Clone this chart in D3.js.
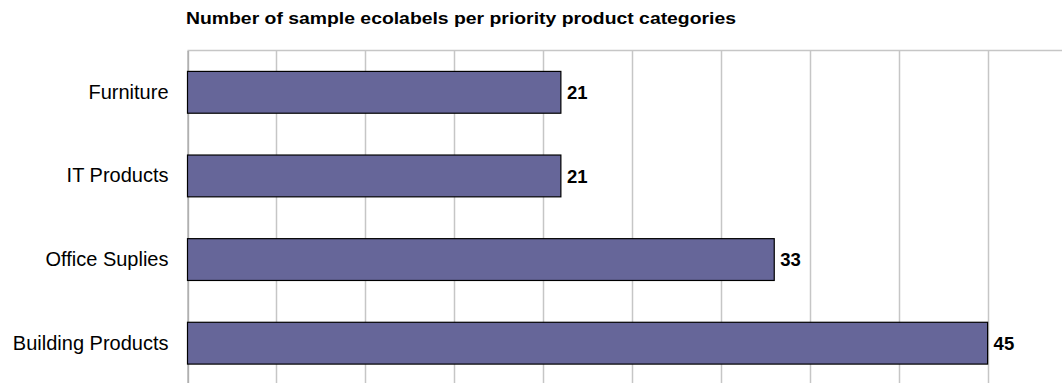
<!DOCTYPE html>
<html>
<head>
<meta charset="utf-8">
<script src="https://cdn.jsdelivr.net/npm/d3@7"></script>
<style>
  html, body { margin: 0; padding: 0; background: #fff; }
  svg { display: block; font-family: "Liberation Sans", Arial, Helvetica, sans-serif; }
</style>
</head>
<body>
<svg id="chart" width="1062" height="383"></svg>
<script>
// Ecolabel counts per priority product category
const categories = ["Furniture", "IT Products", "Office Suplies", "Building Products"];
const counts = [21, 21, 33, 45];
const xTicks = [0, 5, 10, 15, 20, 25, 30, 35, 40, 45, 50];
const title = "Number of sample ecolabels per priority product categories";

const svg = d3.select("#chart");
const margin = { top: 50.5, left: 187.5 };
const plotW = 889;
const plotH = 334.5;

const x = d3.scaleLinear().domain([0, 50]).range([margin.left, margin.left + plotW]);
const y = d3.scaleBand().domain(categories)
  .range([margin.top, margin.top + plotH])
  .paddingInner(0.5).paddingOuter(0.25);

// title, set wide
svg.append("text")
  .attr("x", 186).attr("y", 23.5)
  .attr("font-weight", "bold").attr("font-size", 16.5)
  .attr("textLength", 550).attr("lengthAdjust", "spacingAndGlyphs")
  .attr("fill", "#000")
  .text(title);

// vertical gridlines
svg.append("g").selectAll("line").data(xTicks).join("line")
  .attr("x1", d => Math.round(x(d)) + 0.5).attr("x2", d => Math.round(x(d)) + 0.5)
  .attr("y1", margin.top).attr("y2", margin.top + plotH)
  .attr("stroke", "#c6c6c6").attr("stroke-width", 1.5);

// top border of plot
svg.append("line")
  .attr("x1", x(0)).attr("x2", x(50))
  .attr("y1", margin.top).attr("y2", margin.top)
  .attr("stroke", "#c6c6c6").attr("stroke-width", 1.5);

// category axis
const yAxis = svg.append("g")
  .attr("transform", `translate(${margin.left},0)`)
  .call(d3.axisLeft(y).tickSize(0).tickPadding(19));
yAxis.select(".domain").attr("stroke", "#999").attr("stroke-width", 1);
yAxis.selectAll("text")
  .attr("font-size", 20).attr("fill", "#000")
  .attr("font-family", "Liberation Sans, Arial, sans-serif");

// bars
svg.append("g").selectAll("rect").data(categories).join("rect")
  .attr("x", x(0))
  .attr("y", d => y(d))
  .attr("width", (d, i) => x(counts[i]) - x(0))
  .attr("height", y.bandwidth())
  .attr("fill", "#666699")
  .attr("stroke", "#000").attr("stroke-width", 1.2);

// value labels
svg.append("g").selectAll("text").data(categories).join("text")
  .attr("x", (d, i) => x(counts[i]) + 6)
  .attr("y", d => y(d) + y.bandwidth() / 2)
  .attr("dy", "0.36em")
  .attr("font-weight", "bold").attr("font-size", 18.5)
  .attr("fill", "#000")
  .text((d, i) => counts[i]);
</script>
</body>
</html>
